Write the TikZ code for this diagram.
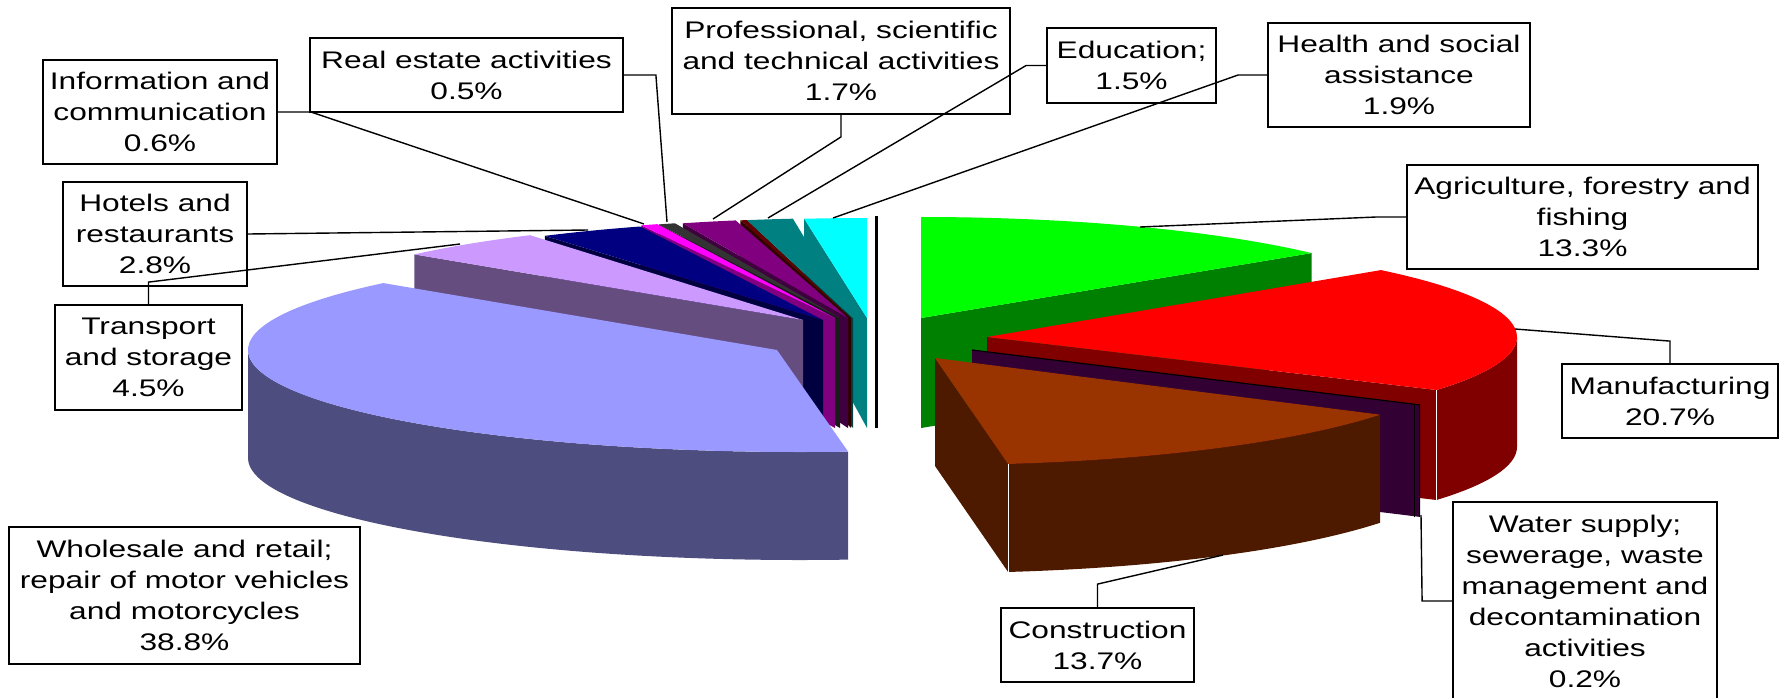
\documentclass[tikz,border=0pt]{standalone}
\usepackage{fontspec}
\setmainfont{Liberation Sans}[FakeStretch=1.32]
\definecolor{wsTop}{HTML}{9999FF}\definecolor{wsSide}{HTML}{4D4D80}
\definecolor{trTop}{HTML}{CC99FF}\definecolor{trSide}{HTML}{664D80}
\definecolor{hoTop}{HTML}{000080}\definecolor{hoSide}{HTML}{000040}
\definecolor{inTop}{HTML}{FF00FF}\definecolor{inSide}{HTML}{800080}
\definecolor{reTop}{HTML}{333333}\definecolor{reSide}{HTML}{1A1A1A}
\definecolor{prTop}{HTML}{800080}\definecolor{prSide}{HTML}{400040}
\definecolor{paTop}{HTML}{600000}\definecolor{paSide}{HTML}{300000}
\definecolor{edTop}{HTML}{008080}\definecolor{edSide}{HTML}{004040}
\definecolor{heTop}{HTML}{00FFFF}\definecolor{heSide}{HTML}{008080}
\definecolor{agTop}{HTML}{00FF00}\definecolor{agSide}{HTML}{008000}
\definecolor{maTop}{HTML}{FF0000}\definecolor{maSide}{HTML}{800000}
\definecolor{waSide}{HTML}{330033}
\definecolor{coTop}{HTML}{993300}\definecolor{coSide}{HTML}{4D1A00}

\begin{document}
\begin{tikzpicture}[x=1pt,y=-1pt,
		lbl/.style={draw,line width=1.8pt,fill=white,align=center,inner sep=0pt,font=\fontsize{24}{31}\selectfont},
		lead/.style={line width=1.4pt}]
	\useasboundingbox (0,0) rectangle (1781,697);
	\foreach \cx/\cy/\a/\b/\t/\s in {867/318/263/270/heTop/heSide,853/318/258.1/263.3/edTop/edSide,851/318/257.6/258.3/paTop/paSide,848/318/251.3/257.4/prTop/prSide,840/318/249.4/251.3/reTop/reSide,835/318/247.9/249.8/inTop/inSide,823/320/237.3/249.2/hoTop/hoSide,803/320/221/238/trTop/trSide}{
		\fill[\s] (\cx,\cy) ++(\a:515 and 100) -- ++(0,95) -- (\cx,\cy+110) -- (\cx,\cy) -- cycle;
		\fill[\t] (\cx,\cy) -- ++(\a:515 and 100) arc[start angle=\a,end angle=\b,x radius=515,y radius=100] -- cycle;
	}
	\draw[line width=2.5pt] (876.5,216) -- (876.5,428);
	\path (800,350) coordinate (wsC) +(221:552 and 102) coordinate (wsB) +(180:552 and 102) coordinate (wsL);
	\fill[wsSide] (wsL) arc[start angle=180,end angle=85,x radius=552,y radius=102] -- ++(0,108) arc[start angle=85,end angle=180,x radius=552,y radius=102] -- cycle;
	\fill[wsTop] (777,350) -- (wsB) arc[start angle=221,end angle=85,x radius=552,y radius=102] -- cycle;
	\fill[agSide] (921,318) -- ++(-40:510 and 101) -- ++(0,110) -- (921,428) -- cycle;
	\fill[agTop] (921,318) -- ++(-90:510 and 101) arc[start angle=-90,end angle=-40,x radius=510,y radius=101] -- cycle;
	\fill[maSide] (987,337) -- ++(32:530 and 100) -- ++(0,110) -- (987,447) -- cycle;
	\fill[maSide] (987,337) ++(0:530 and 100) arc[start angle=0,end angle=32,x radius=530,y radius=100] -- ++(0,110) arc[start angle=32,end angle=0,x radius=530,y radius=100] -- cycle;
	\fill[maTop] (987,337) -- ++(-42:530 and 100) arc[start angle=-42,end angle=32,x radius=530,y radius=100] -- cycle;
	\draw[white,line width=1pt] (987,337) ++(32:530 and 100) -- ++(0,110);
	\fill[waSide] (972,350) -- ++(31.5:525 and 105) -- ++(0,112) -- (972,462) -- cycle;
	\draw[line width=1.2pt] (972,350) -- ++(31.5:525 and 105) coordinate (waO) -- ++(0,112);
	\draw[line width=1pt] ([xshift=-5]waO) -- ++(0,112);
	\fill[coSide] (935,358) -- ++(82:525 and 107) -- ++(0,108) -- (935,466) -- cycle;
	\fill[coSide] (935,358) ++(32:525 and 107) arc[start angle=32,end angle=82,x radius=525,y radius=107] -- ++(0,108) arc[start angle=82,end angle=32,x radius=525,y radius=107] -- cycle;
	\fill[coTop] (935,358) -- ++(32:525 and 107) arc[start angle=32,end angle=82,x radius=525,y radius=107] -- cycle;
	\draw[white,line width=1pt] (935,358) ++(82:525 and 107) -- ++(0,108);
	\node[lbl,minimum width=234,minimum height=104] (info) at (160,112) {Information and\\communication\\0.6\%};
	\node[lbl,minimum width=313,minimum height=74] (real) at (466.5,75) {Real estate activities\\0.5\%};
	\node[lbl,minimum width=338,minimum height=106] (prof) at (841,61) {Professional, scientific\\and technical activities\\1.7\%};
	\node[lbl,minimum width=169,minimum height=75] (edu) at (1131.5,65.5) {Education;\\1.5\%};
	\node[lbl,minimum width=262,minimum height=104] (health) at (1399,75) {Health and social\\assistance\\1.9\%};
	\node[lbl,minimum width=351,minimum height=104] (agri) at (1582.5,217) {Agriculture, forestry and\\fishing\\13.3\%};
	\node[lbl,minimum width=216,minimum height=74] (manu) at (1670,401) {Manufacturing\\20.7\%};
	\node[lbl,minimum width=264,minimum height=198] (water) at (1585,601) {Water supply;\\sewerage, waste\\management and\\decontamination\\activities\\0.2\%};
	\node[lbl,minimum width=193,minimum height=74] (cons) at (1097.5,645) {Construction\\13.7\%};
	\node[lbl,minimum width=351,minimum height=137] (whole) at (184.5,595.5) {Wholesale and retail;\\repair of motor vehicles\\and motorcycles\\38.8\%};
	\node[lbl,minimum width=184,minimum height=104] (hotel) at (155,234) {Hotels and\\restaurants\\2.8\%};
	\node[lbl,minimum width=187,minimum height=105] (trans) at (148.5,357.5) {Transport\\and storage\\4.5\%};
	\path
	(644,224) coordinate (pInfo)
	(667,222) coordinate (pReal)
	(713,219) coordinate (pProf)
	(768,218) coordinate (pEdu)
	(833,218) coordinate (pHealth)
	(1140,227) coordinate (pAgri)
	(1515,329) coordinate (pManu)
	(1421,515) coordinate (pWater)
	(1223,555) coordinate (pCons)
	(588,230) coordinate (pHotel)
	(460,244) coordinate (pTrans)
	;
	\draw[lead] (info.east) -- ++(33,0) -- (pInfo);
	\draw[lead] (real.east) -- ++(32,0) -- (pReal);
	\draw[lead] (prof.south) -- ++(0,22) -- (pProf);
	\draw[lead] (edu.west) -- ++(-20,0) -- (pEdu);
	\draw[lead] (health.west) -- ++(-29,0) -- (pHealth);
	\draw[lead] (agri.west) -- ++(-30,0) -- (pAgri);
	\draw[lead] (manu.north) -- ++(0,-22) -- (pManu);
	\draw[lead] (water.west) -- ++(-30,0) -- (pWater);
	\draw[lead] (cons.north) -- ++(0,-23) -- (pCons);
	\draw[lead] (hotel.east) -- (pHotel);
	\draw[lead] (trans.north) -- ++(0,-22) -- (pTrans);
\end{tikzpicture}
\end{document}
